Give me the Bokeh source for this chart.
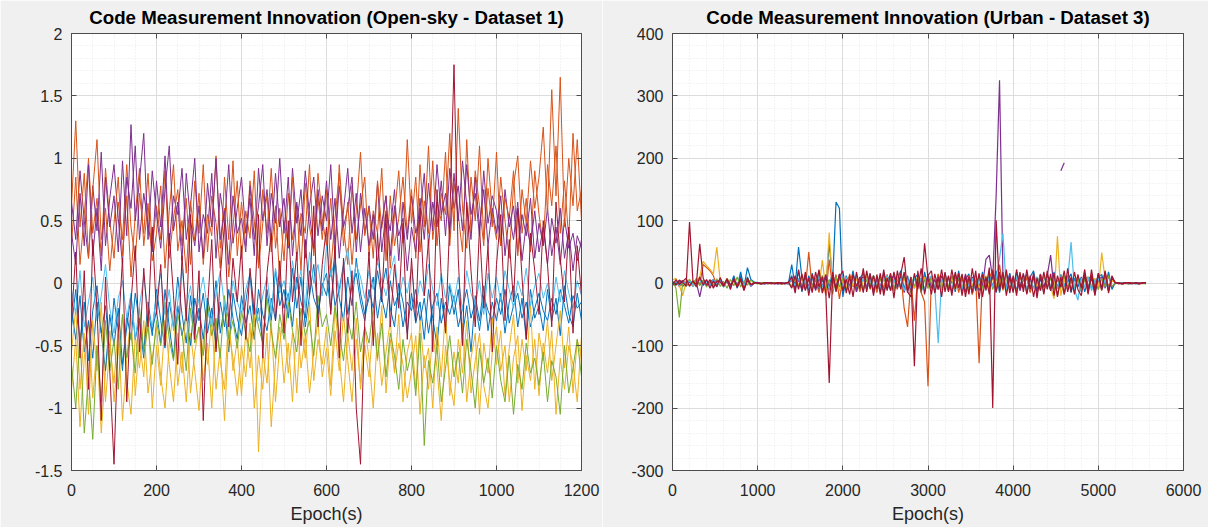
import numpy as np
from bokeh.plotting import figure
from bokeh.layouts import row
from bokeh.models import LinearAxis, SingleIntervalTicker, CustomJSTickFormatter, Range1d
from bokeh.embed import file_html
from bokeh.resources import INLINE

FONT = "Liberation Sans"
BLUE, ORANGE, YELLOW, PURPLE, GREEN, LIGHTBLUE, RED = (
    "#0072BD", "#D95319", "#EDB120", "#7E2F8E", "#77AC30", "#4DBEEE", "#A2142F")

title_open = "Code Measurement Innovation (Open-sky - Dataset 1)"
title_urban = "Code Measurement Innovation (Urban - Dataset 3)"
x_label = "Epoch(s)"

# ---------------- Open-sky (Dataset 1): epochs every 10 s ----------------
epoch_open = list(range(0, 1201, 10))

open_blue = [
    -0.20, -0.45, -0.10, -0.55, -0.30, -0.60, -0.15, -0.40, -0.70, -0.25,
    -0.50, -0.20, -0.65, -0.35, -0.10, -0.45, -0.28, -0.55, -0.15, -0.38,
    -0.22, -0.48, -0.05, -0.35, -0.60, -0.18, -0.42, -0.25, -0.50, -0.12,
    -0.30, -0.08, -0.40, -0.20, -0.52, -0.15, -0.35, -0.05, -0.28, -0.45,
    -0.10, -0.32, -0.18, -0.45, -0.05, -0.25, -0.38, -0.12, -0.30, 0.02,
    -0.20, -0.08, -0.35, 0.05, -0.15, -0.28, 0.10, -0.12, -0.22, 0.00,
    -0.10, 0.12, -0.18, -0.05, 0.15, -0.25, -0.02, 0.08, -0.15, -0.30,
    -0.05, -0.20, 0.10, -0.12, -0.28, 0.02, -0.18, -0.08, -0.35, -0.15,
    -0.22, -0.05, -0.30, -0.12, -0.40, -0.18, -0.08, -0.32, -0.15, -0.25,
    -0.10, -0.35, -0.20, -0.05, -0.28, -0.15, -0.38, -0.10, -0.22, -0.30,
    -0.12, -0.25, -0.05, -0.32, -0.18, -0.08, -0.28, -0.15, -0.35, -0.20,
    -0.08, -0.22, -0.30, -0.12, -0.25, -0.05, -0.18, -0.32, -0.10, -0.20, -0.15,
]
open_orange = [
    0.62, 1.30, 0.45, 0.88, 0.20, 0.75, 1.15, 0.35, 0.60, 0.10,
    0.48, 0.85, 0.22, 0.70, 0.05, 0.55, 0.92, 0.30, 0.64, 0.18,
    0.40, 0.78, 0.12, 0.58, 0.95, 0.26, 0.50, 0.08, 0.66, 0.34,
    0.72, 0.15, 0.55, 0.38, 1.02, 0.28, 0.60, 0.05, 0.45, 0.82,
    0.20, 0.58, 0.36, 0.90, 0.12, 0.48, 0.70, 0.25, 0.62, 0.02,
    0.50, 0.30, 0.85, 0.18, 0.56, 0.40, 0.95, 0.22, 0.68, 0.35,
    0.75, 0.10, 0.52, 0.88, 0.30, 0.65, 0.15, 0.58, 1.05, 0.38,
    0.60, 0.20, 0.82, 0.44, 0.70, 0.12, 0.55, 0.90, 0.32, 1.15,
    0.48, 0.85, 0.25, 0.66, 0.40, 0.98, 0.30, 0.72, 0.55, 1.20,
    0.42, 1.40, 0.60, 0.28, 0.85, 0.50, 1.10, 0.35, 0.76, 0.45,
    1.05, 0.30, 0.68, 0.52, 0.90, 0.22, 0.75, 0.48, 0.98, 0.60,
    0.85, 1.25, 0.55, 1.55, 0.70, 1.65, 0.45, 1.00, 0.62, 1.15, 0.50,
]
open_yellow = [
    -0.55, -0.20, -0.85, -0.40, -1.05, -0.30, -0.70, -0.15, -0.95, -0.50,
    -0.80, -0.35, -1.10, -0.60, -0.25, -0.90, -0.45, -0.75, -0.20, -1.00,
    -0.50, -0.82, -0.30, -0.65, -0.95, -0.40, -0.72, -0.18, -0.88, -0.55,
    -0.35, -0.78, -0.48, -1.00, -0.30, -0.62, -0.85, -0.25, -0.70, -0.45,
    -0.90, -0.38, -0.68, -0.22, -1.35, -0.55, -0.80, -0.30, -0.95, -0.48,
    -0.25, -0.72, -0.40, -0.88, -0.30, -0.60, -0.15, -0.78, -0.45, -0.65,
    -0.35, -0.82, -0.20, -0.58, -0.95, -0.40, -0.70, -0.28, -0.85, -0.50,
    -0.75, -0.30, -0.62, -0.18, -0.88, -0.45, -0.70, -0.25, -0.95, -0.55,
    -0.40, -0.85, -0.30, -0.68, -0.52, -1.00, -0.35, -0.75, -0.20, -0.90,
    -0.55, -0.80, -0.32, -0.95, -0.60, -0.40, -1.05, -0.48, -0.72, -0.28,
    -0.65, -0.38, -0.90, -0.52, -0.25, -0.80, -0.45, -0.70, -0.18, -0.85,
    -0.40, -0.62, -0.30, -0.78, -0.50, -0.22, -0.68, -0.35, -0.88, -0.45, -0.60,
]
open_purple = [
    0.40, 0.15, 0.72, 0.30, 0.95, 0.22, 0.60, 0.10, 0.85, 0.45,
    0.70, 0.25, 0.98, 0.38, 1.27, 0.50, 0.82, 1.20, 0.35, 0.90,
    0.55, 0.28, 0.75, 1.10, 0.42, 0.65, 0.18, 0.88, 0.50, 0.30,
    0.62, 0.20, 0.80, 0.45, 1.00, 0.35, 0.58, 0.15, 0.70, 0.40,
    0.52, 0.25, 0.78, 0.35, 0.62, 0.95, 0.30, 0.72, 0.48, 1.00,
    0.40, 0.85, 0.22, 0.65, 0.38, 0.90, 0.55, 0.28, 0.75, 0.42,
    0.82, 0.35, 0.68, 0.20, 0.58, 0.92, 0.40, 0.72, 0.25, 0.60,
    0.30, 0.55, 0.15, 0.48, 0.70, 0.22, 0.62, 0.38, 0.52, 0.10,
    0.45, 0.25, 0.68, 0.35, 0.80, 0.42, 0.95, 0.55, 0.72, 0.40,
    0.88, 0.50, 0.98, 0.62, 0.35, 0.85, 0.45, 0.75, 0.30, 0.60,
    0.40, 0.70, 0.22, 0.55, 0.35, 0.65, 0.18, 0.48, 0.30, 0.58,
    0.25, 0.45, 0.15, 0.52, 0.32, 0.60, 0.20, 0.42, 0.10, 0.38, 0.28,
]
open_green = [
    -0.65, -1.00, -0.40, -1.20, -0.75, -1.25, -0.50, -0.95, -0.30, -0.70,
    -0.45, -0.85, -0.25, -0.60, -0.40, -0.72, -0.20, -0.55, -0.35, -0.65,
    -0.30, -0.50, -0.15, -0.45, -0.62, -0.25, -0.40, -0.70, -0.20, -0.48,
    -0.35, -0.58, -0.15, -0.42, -0.28, -0.60, -0.10, -0.45, -0.30, -0.52,
    -0.22, -0.40, -0.55, -0.18, -0.35, -0.48, -0.12, -0.38, -0.60, -0.25,
    -0.45, -0.15, -0.38, -0.55, -0.20, -0.42, -0.30, -0.58, -0.10, -0.35,
    -0.25, -0.50, -0.18, -0.40, -0.62, -0.28, -0.45, -0.15, -0.55, -0.35,
    -0.48, -0.20, -0.60, -0.32, -0.75, -0.40, -0.58, -0.85, -0.45, -0.70,
    -0.55, -0.90, -0.40, -1.30, -0.62, -0.80, -0.50, -0.95, -0.68, -0.42,
    -0.75, -0.55, -0.88, -0.45, -0.70, -1.00, -0.52, -0.80, -0.60, -0.92,
    -0.50, -0.78, -0.95, -0.58, -1.05, -0.65, -0.85, -0.48, -0.72, -0.60,
    -0.82, -0.55, -0.95, -0.62, -0.75, -1.05, -0.50, -0.88, -0.68, -0.45, -0.75,
]
open_lightblue = [
    -0.05, -0.25, 0.10, -0.35, -0.15, 0.05, -0.30, -0.10, 0.15, -0.20,
    -0.40, -0.12, 0.02, -0.28, -0.08, -0.45, -0.18, 0.05, -0.22, -0.35,
    -0.10, 0.08, -0.25, -0.05, -0.38, -0.15, 0.12, -0.20, -0.02, -0.30,
    -0.12, 0.05, -0.22, -0.35, -0.08, 0.10, -0.18, -0.28, 0.02, -0.15,
    -0.25, -0.05, 0.08, -0.18, -0.30, -0.10, 0.05, -0.22, 0.12, -0.08,
    0.02, -0.15, 0.18, -0.05, 0.10, -0.20, 0.25, 0.00, 0.15, -0.10,
    0.30, 0.05, 0.20, -0.08, 0.12, 0.28, -0.02, 0.15, 0.05, -0.12,
    0.10, -0.05, 0.18, 0.02, -0.10, 0.08, 0.22, -0.15, 0.05, -0.08,
    0.12, -0.20, 0.02, -0.10, 0.15, -0.05, -0.18, 0.08, -0.12, 0.00,
    -0.15, 0.05, -0.22, 0.10, -0.08, -0.18, 0.02, -0.25, 0.08, -0.12,
    0.05, -0.15, 0.10, -0.05, -0.20, 0.02, -0.10, 0.12, -0.18, -0.02,
    0.08, -0.12, 0.00, -0.22, 0.05, -0.15, 0.10, -0.08, -0.20, 0.02, -0.10,
]
open_red = [
    -0.30, 0.25, -0.60, 0.10, -0.85, 0.35, -0.20, -1.10, 0.05, -0.70,
    -1.45, -0.40, 0.20, -0.95, -0.15, 0.30, -0.55, 0.12, -0.35, 0.45,
    -0.25, 0.15, -0.50, 0.40, -0.10, -0.65, 0.22, -0.30, 0.55, -0.45,
    0.10, -1.10, -0.20, 0.35, -0.55, 0.05, 0.48, -0.35, 0.20, -0.15,
    0.30, -0.45, 0.12, -0.25, 0.55, -0.60, 0.08, 0.40, -0.30, 0.18,
    -0.40, 0.50, -0.15, 0.25, -0.50, 0.35, -0.10, 0.62, -0.35, 0.15,
    0.45, -0.25, 0.30, -0.60, 0.20, -0.40, 0.10, -1.00, -1.45, -0.30,
    0.25, -0.50, 0.40, -0.15, 0.55, -0.35, 0.15, -0.20, 0.48, -0.45,
    0.20, -0.30, 0.60, -0.10, 0.35, -0.55, 0.75, 0.05, -0.40, 0.50,
    1.75, 0.20, -0.50, 0.65, 0.10, -0.35, 0.45, -0.20, 0.30, -0.55,
    0.15, 0.55, -0.30, 0.35, -0.15, 0.60, 0.05, -0.45, 0.40, 0.10,
    -0.25, 0.50, 0.15, -0.35, 0.65, 0.20, -0.15, 0.45, -0.40, 0.30, -0.10,
]
open_blue2 = [
    -0.35, -0.05, -0.48, -0.15, -0.62, -0.22, -0.02, -0.40, -0.18, -0.55,
    -0.12, -0.38, -0.70, -0.25, -0.45, -0.08, -0.32, -0.60, -0.20, -0.42,
    -0.05, -0.30, -0.52, -0.15, -0.35, 0.05, -0.25, -0.48, -0.10, -0.38,
    -0.20, -0.45, -0.12, -0.30, 0.02, -0.40, -0.18, -0.55, -0.08, -0.28,
    -0.42, -0.15, 0.08, -0.35, -0.20, -0.48, -0.05, -0.30, 0.10, -0.18,
    -0.05, -0.28, 0.12, -0.20, 0.05, -0.35, -0.10, 0.15, -0.25, -0.02,
    0.08, -0.22, 0.18, -0.12, -0.30, 0.05, -0.18, 0.20, -0.08, -0.25,
    -0.12, 0.05, -0.28, -0.05, 0.12, -0.20, -0.35, 0.00, -0.15, -0.40,
    -0.08, -0.32, -0.15, -0.45, -0.05, -0.28, -0.50, -0.12, -0.35, -0.02,
    -0.25, -0.05, -0.42, -0.18, -0.55, -0.10, -0.30, -0.02, -0.38, -0.15,
    -0.30, -0.08, -0.40, -0.15, -0.02, -0.35, -0.12, -0.45, -0.05, -0.28,
    -0.18, -0.38, -0.05, -0.30, -0.12, -0.42, -0.02, -0.25, -0.35, -0.08, -0.30,
]
open_orange2 = [
    0.30, 0.85, 0.15, 0.55, 1.00, 0.40, 0.68, 0.22, 0.92, 0.50,
    0.20, 0.65, 0.35, 0.95, 0.45, 0.18, 0.72, 0.40, 0.88, 0.28,
    0.62, 0.35, 0.90, 0.20, 0.52, 0.75, 0.30, 0.68, 0.15, 0.82,
    0.40, 0.95, 0.25, 0.70, 0.48, 0.12, 0.85, 0.35, 0.98, 0.22,
    0.65, 0.30, 0.82, 0.50, 0.15, 0.75, 0.40, 0.92, 0.28, 0.60,
    0.18, 0.72, 0.35, 0.62, 0.10, 0.80, 0.45, 0.25, 0.88, 0.52,
    0.30, 0.68, 0.20, 0.95, 0.45, 0.15, 0.78, 0.35, 0.62, 0.85,
    0.22, 0.58, 0.40, 0.92, 0.18, 0.70, 0.30, 0.52, 0.85, 0.40,
    0.75, 0.20, 0.95, 0.45, 1.10, 0.35, 0.65, 0.50, 1.05, 0.30,
    0.80, 0.55, 0.25, 1.15, 0.40, 0.90, 0.62, 0.30, 1.00, 0.55,
    0.35, 0.85, 0.50, 0.20, 0.78, 1.02, 0.40, 0.68, 0.25, 0.90,
    0.55, 0.30, 0.95, 0.62, 1.10, 0.40, 0.82, 0.35, 1.20, 0.58, 0.75,
]
open_yellow2 = [
    -0.85, -0.45, -1.15, -0.60, -0.30, -0.92, -0.50, -1.20, -0.70, -0.38,
    -0.95, -0.55, -0.25, -0.78, -1.05, -0.42, -0.68, -0.30, -0.88, -0.60,
    -0.35, -0.75, -1.00, -0.48, -0.22, -0.82, -0.55, -0.95, -0.40, -0.70,
    -1.02, -0.45, -0.65, -0.28, -0.85, -0.52, -1.10, -0.38, -0.60, -0.90,
    -0.50, -0.75, -0.32, -1.00, -0.58, -0.85, -0.40, -1.15, -0.62, -0.35,
    -0.80, -0.48, -0.95, -0.28, -0.68, -0.42, -0.88, -0.55, -0.30, -0.75,
    -0.52, -0.90, -0.38, -0.70, -0.25, -0.62, -0.95, -0.45, -0.80, -0.35,
    -0.60, -1.00, -0.40, -0.82, -0.55, -0.30, -0.72, -0.48, -0.65, -0.92,
    -0.70, -0.42, -1.05, -0.58, -0.85, -0.38, -0.68, -1.10, -0.50, -0.78,
    -0.98, -0.45, -0.72, -0.30, -0.88, -0.62, -0.40, -0.82, -1.00, -0.55,
    -0.35, -0.70, -0.50, -0.95, -0.60, -0.42, -1.02, -0.58, -0.78, -0.45,
    -0.90, -0.48, -0.72, -0.38, -1.05, -0.60, -0.85, -0.50, -0.65, -0.95, -0.42,
]
open_purple2 = [
    0.65, 0.35, 0.90, 0.50, 0.20, 0.78, 0.42, 1.05, 0.30, 0.68,
    0.95, 0.52, 0.15, 0.85, 0.60, 1.10, 0.35, 0.72, 0.48, 0.25,
    0.82, 0.45, 1.02, 0.30, 0.70, 0.55, 0.92, 0.35, 0.62, 1.00,
    0.25, 0.55, 0.40, 0.88, 0.20, 0.72, 0.48, 0.95, 0.32, 0.60,
    0.85, 0.40, 0.68, 0.22, 0.92, 0.50, 0.75, 0.35, 0.88, 0.45,
    0.68, 0.28, 0.92, 0.48, 0.75, 0.20, 0.62, 0.85, 0.38, 0.70,
    0.50, 0.95, 0.30, 0.78, 0.45, 0.60, 0.85, 0.25, 0.72, 0.40,
    0.62, 0.35, 0.80, 0.25, 0.58, 0.42, 0.75, 0.18, 0.65, 0.35,
    0.70, 0.40, 0.55, 0.88, 0.30, 0.65, 0.45, 0.82, 0.38, 0.92,
    0.60, 0.78, 0.42, 0.95, 0.55, 0.72, 0.38, 0.90, 0.48, 0.70,
    0.58, 0.30, 0.75, 0.45, 0.62, 0.25, 0.55, 0.38, 0.68, 0.20,
    0.48, 0.30, 0.60, 0.22, 0.45, 0.15, 0.52, 0.28, 0.40, 0.18, 0.35,
]
# drawing order (last drawn on top)
open_series = [
    (open_blue2, BLUE), (open_orange2, ORANGE), (open_yellow2, YELLOW), (open_purple2, PURPLE),
    (open_blue, BLUE), (open_orange, ORANGE), (open_yellow, YELLOW), (open_purple, PURPLE),
    (open_green, GREEN), (open_lightblue, LIGHTBLUE), (open_red, RED),
]

# ---------------- Urban (Dataset 3): epochs every 40 s ----------------
epoch_urban = list(range(0, 5561, 40))
NaN = float("nan")

urban_blue = [
    3, -2, 4, -5, 1, 2, -3, 5, -1, 3,
    -4, 2, 6, -3, 5, -6, 8, -4, 10, -8,
    12, -5, 25, 6, 2, 1, 0, -1, 1, 0,
    1, -1, 0, 1, -1, 30, -6, 58, 8, -10,
    12, -5, 10, -12, 6, -8, 65, 2, 130, 120,
    -22, 10, -6, 14, -10, 8, -12, 15, -5, 12,
    -8, 10, -14, 6, 12, -10, 8, -6, 14, -12,
    6, -8, 10, -15, 12, -6, 8, -10, 14, -5,
    10, -12, 6, 15, -8, 12, -14, 8, -6, 10,
    -12, 14, -8, 6, 10, -15, 12, -5, 15, -10,
    8, -12, 14, -6, 10, -14, 12, -8, 15, -10,
    6, -12, 10, -8, 14, -5, 12, -15, 8, -6,
    10, -14, 6, 12, -8, 14, -10, 6, -12, 8,
    0, 1, -1, 0, 1, 0, -1, 0, 1, 0,
]
urban_orange = [
    -2, 4, -6, 3, 1, -4, 2, 5, -3, 30,
    25, 20, 12, -5, 6, -4, 3, -7, 5, -2,
    4, -6, 8, -3, 1, 0, -1, 0, 1, 0,
    0, 1, -1, 0, 1, -6, 8, -4, 10, -8,
    50, -10, 6, -15, 12, -20, 38, -8, 14, -25,
    8, -12, 15, -6, 10, -14, 6, 12, -10, 8,
    -15, 10, -8, 14, -12, 6, -10, 15, -40, -70,
    8, -60, 12, -15, -30, -165, 10, -12, 15, -8,
    12, -10, 6, 14, -15, 8, -6, 12, -18, 10,
    -128, 14, -10, 8, 22, -12, 30, -8, 15, -10,
    6, -14, 12, -8, 10, -15, 8, -6, 14, -12,
    10, -8, 15, -20, 6, 12, -10, 8, -14, 10,
    -6, 12, -10, 14, -8, 6, -12, 10, -5, 8,
    1, 0, -1, 0, 0, 1, 0, -1, 0, 0,
]
urban_yellow = [
    5, 8, -3, -20, 2, 6, -4, 3, 10, 35,
    28, 22, 15, 58, 4, -6, 8, -3, 6, -5,
    3, -4, 5, -2, 1, 0, 0, 1, -1, 0,
    1, 0, -1, 0, 0, -4, 6, -3, 8, -6,
    5, -8, 10, -5, 37, -10, 81, -6, 8, -12,
    6, -8, 10, -4, 8, -10, 5, 12, -6, 8,
    -10, 6, 12, -8, 5, -12, 10, -6, 8, -10,
    6, -8, 12, -5, 10, -8, 6, -12, 8, -4,
    10, -6, 8, -10, 5, 12, -8, 6, -5, 10,
    -8, 6, 12, -10, 8, -6, 10, -12, 5, 8,
    -6, 10, -8, 6, 12, -10, 8, -5, 10, -12,
    8, -6, -25, 75, -20, 6, -10, 8, -6, 12,
    -8, 6, 10, -5, 8, -10, 49, 6, -8, 5,
    0, 1, 0, -1, 0, 0, 1, 0, -1, 0,
]
urban_purple = [
    -3, 2, -1, 4, -5, 3, -2, 1, -22, 5,
    -4, 3, -6, 2, 5, -3, 4, -6, 8, -4,
    6, -3, 4, -5, 0, 1, 0, -1, 0, 1,
    0, -1, 1, 0, -1, 5, -8, 6, -10, 12,
    -6, 10, -12, 8, -5, 14, -10, 6, -8, 12,
    -10, 8, -6, 12, -14, 6, 10, -8, 15, -12,
    8, -6, 14, -10, 6, 12, -8, 10, -15, 6,
    -10, 12, -6, 8, -12, 15, -8, 6, -10, 12,
    -6, 10, -14, 8, 6, -12, 15, -8, 10, -10,
    12, -6, 38, 45, 6, 140, 325, 10, -8, 14,
    -10, 8, -12, 6, 14, -8, 10, -15, 8, -6,
    12, 45, -10, NaN, 180, 193, NaN, 8, -12, 10,
    -6, 14, -10, 8, -12, 6, 10, -8, 12, -5,
    0, 0, 1, 0, -1, 0, 0, 1, 0, 0,
]
urban_green = [
    4, -8, -55, 3, -5, 6, -2, 8, -4, 5,
    -6, 4, -3, 7, -5, 3, -8, 6, -4, 10,
    -6, 4, -3, 5, 0, -1, 0, 1, 0, 0,
    1, 0, -1, 0, 1, -5, 8, -6, 10, -4,
    6, -10, 8, -5, 12, -8, 6, -18, 10, -6,
    8, -12, 5, 10, -6, 8, -10, 6, -5, 12,
    -8, 6, 10, -6, 8, -10, 5, -8, 12, -6,
    10, -5, 8, -12, 6, -8, 10, -6, 5, -10,
    8, -6, 12, -5, 10, -8, 6, -12, 8, -5,
    10, -8, 6, 12, -10, 8, -6, 10, -12, 5,
    -8, 10, -5, 8, -12, 6, -8, 10, -6, 12,
    -5, 8, -10, 6, -8, 12, -6, 5, -10, 8,
    -12, 6, 10, -8, 5, -10, 8, -6, 12, -5,
    0, 1, 0, 0, -1, 0, 1, 0, 0, -1,
]
urban_lightblue = [
    -2, 3, -4, 2, -1, 4, -3, 2, 5, -4,
    3, -5, 6, -2, 4, -6, 5, -3, 7, -5,
    4, -3, 6, -4, 1, 0, -1, 0, 1, 0,
    -1, 0, 1, 0, 0, 6, -4, 8, -6, 5,
    -8, 10, -5, 12, -6, 8, -10, 6, -4, 8,
    -6, 10, -8, 5, 12, -6, 8, -10, 6, -5,
    10, -8, 6, 12, -10, 5, -6, 8, -12, 6,
    -8, 10, -5, 8, -10, 6, 12, -8, -96, 8,
    -6, 10, -8, 5, 12, -10, 6, -5, 8, -12,
    6, 10, -8, 12, -6, 8, 40, 80, -10, 6,
    -8, 10, -5, 12, -10, 6, -8, 10, -12, 5,
    8, -6, 10, -8, 12, -5, 6, 66, -10, -27,
    8, -6, 10, -12, 5, 8, -10, 6, -8, 10,
    0, 0, 1, 0, -1, 0, 0, 1, 0, 0,
]
urban_red = [
    2, -3, 5, 1, -4, 98, 3, -2, 63, 8,
    -3, 6, -8, 4, 2, -5, 7, -3, 5, -6,
    8, -10, 4, -2, 1, 0, -1, 1, 0, 1,
    -1, 0, 1, -1, 2, -8, 12, -10, 15, -12,
    8, -15, 18, -6, 10, -14, -160, 12, -8, 15,
    -12, 6, -18, 14, -5, 10, -15, 20, -8, 12,
    -10, 16, -20, 8, -12, 18, -6, 14, 42, -15,
    10, -133, 20, -12, 64, 8, -18, 15, -10, 22,
    -14, 12, -20, 18, -8, 15, -22, 10, -15, 20,
    -25, 14, -10, 25, -200, 101, -12, 18, -20, 10,
    -15, 22, -8, 16, -18, 12, -22, 8, -12, 18,
    -10, 15, -20, 12, -6, 20, -14, 10, -18, 14,
    -8, 22, -15, 12, -20, 16, -10, 18, -12, 8,
    1, -1, 0, 1, 0, -1, 1, 0, 0, 1,
]
urban_blue2 = [
    1, -3, 2, 4, -2, 3, -5, 2, 6, -3,
    5, -4, 3, -6, 7, -2, 4, -5, 12, -6,
    18, -8, 10, -4, 1, 0, 1, 0, -1, 0,
    0, 1, 0, -1, 0, 12, -10, 20, -14, 8,
    -12, 16, -8, 20, -15, 10, -6, 18, -12, 14,
    -18, 12, -6, 20, -14, 8, 16, -10, 12, -16,
    10, -14, 18, -8, 15, -12, 6, 20, -10, 12,
    -16, 8, 14, -12, 18, -6, 10, -15, 12, -8,
    16, -10, 8, -14, 20, -12, 6, 15, -18, 10,
    -8, 18, -12, 14, -6, 20, -15, 10, -8, 16,
    -12, 18, -6, 14, -16, 10, 20, -12, 8, -15,
    14, -10, 18, -8, 12, -18, 6, 15, -12, 10,
    -14, 16, -8, 12, -18, 10, 14, -6, 18, -10,
    1, 0, -1, 0, 0, 1, 0, -1, 0, 0,
]
urban_red2 = [
    -4, 6, -2, 3, 8, -5, 4, -6, 10, -3,
    6, -8, 4, -5, 9, -4, 6, -10, 8, -6,
    5, -12, 8, -3, 0, 1, -1, 0, 1, -1,
    0, 1, -1, 0, 1, 10, -16, 22, -12, 18,
    -20, 14, -10, 22, -16, 12, -24, 18, -14, 10,
    20, -16, 12, -22, 18, -10, 24, -14, 16, -20,
    14, -18, 22, -12, 16, -24, 20, -10, 18, -14,
    -22, 16, -10, 24, -18, 12, 20, -16, 10, -22,
    18, -14, 22, -10, 16, -20, 12, -18, 24, -12,
    16, -22, 10, -18, 20, -14, 18, -10, 22, -16,
    12, -20, 18, -14, 22, -10, 16, -24, 14, -18,
    20, -12, 16, -22, 10, -18, 24, -14, 18, -10,
    -20, 14, -18, 22, -12, 16, -10, 20, -16, 12,
    0, 1, -1, 0, 1, 0, 0, -1, 1, 0,
]
urban_series = [
    (urban_blue2, BLUE), (urban_blue, BLUE), (urban_orange, ORANGE), (urban_yellow, YELLOW),
    (urban_purple, PURPLE), (urban_green, GREEN), (urban_lightblue, LIGHTBLUE),
    (urban_red2, RED), (urban_red, RED),
]

AX = "#4d4d4d"
LABEL = "#262626"
PLAIN = CustomJSTickFormatter(code="return String(Math.round(tick*10)/10);")
BLANK = CustomJSTickFormatter(code="return '';")


def make_axis_style(ax, labels=True):
    ax.axis_line_color = AX
    ax.major_tick_line_color = AX
    ax.major_tick_in = 5
    ax.major_tick_out = 0
    ax.minor_tick_line_color = None
    ax.major_label_text_font = FONT
    ax.major_label_text_color = LABEL
    ax.major_label_text_font_size = "16px"
    if labels:
        ax.formatter = PLAIN
    else:
        ax.formatter = BLANK
        ax.major_label_standoff = 0


def make_panel(title, xr, yr, xint, xminor, yint, yminor, w, bl, br):
    p = figure(width=w, height=527, x_range=Range1d(*xr), y_range=Range1d(*yr),
               output_backend="svg", toolbar_location=None, title=title,
               x_axis_label=x_label,
               min_border_left=bl, min_border_right=br, min_border_top=33, min_border_bottom=57)
    p.background_fill_color = "white"
    p.border_fill_color = "#f0f0f0"
    p.outline_line_color = AX
    p.title.text_font = FONT
    p.title.text_font_size = "18.7px"
    p.title.text_font_style = "bold"
    p.title.text_color = "black"
    p.title.align = "center"
    p.title.standoff = 3

    xt = SingleIntervalTicker(interval=xint, num_minor_ticks=xminor)
    yt = SingleIntervalTicker(interval=yint, num_minor_ticks=yminor)
    p.xaxis.ticker = xt
    p.yaxis.ticker = yt
    p.xgrid.ticker = xt
    p.ygrid.ticker = yt
    for g in (p.xgrid, p.ygrid):
        g.grid_line_color = "#dcdcdc"
        g.grid_line_width = 1
        g.minor_grid_line_color = "#e8e8e8"
        g.minor_grid_line_dash = "1 2"
    make_axis_style(p.xaxis[0])
    make_axis_style(p.yaxis[0])
    p.xaxis[0].major_label_standoff = 9
    p.yaxis[0].major_label_standoff = 5
    p.xaxis[0].axis_label_text_font = FONT
    p.xaxis[0].axis_label_text_font_size = "18px"
    p.xaxis[0].axis_label_text_font_style = "normal"
    p.xaxis[0].axis_label_text_color = LABEL
    p.xaxis[0].axis_label_standoff = 5

    top = LinearAxis(ticker=SingleIntervalTicker(interval=xint, num_minor_ticks=xminor))
    right = LinearAxis(ticker=SingleIntervalTicker(interval=yint, num_minor_ticks=yminor))
    make_axis_style(top, labels=False)
    make_axis_style(right, labels=False)
    p.add_layout(top, "above")
    p.add_layout(right, "right")
    return p


p1 = make_panel(title_open, (0, 1200), (-1.5, 2), 200, 4, 0.5, 5, 602, 71, 21)
for vals, c in open_series:
    p1.line(epoch_open, vals, line_color=c, line_width=1)

p2 = make_panel(title_urban, (0, 6000), (-300, 400), 1000, 5, 100, 5, 606, 70, 25)
for vals, c in urban_series:
    p2.line(epoch_urban, np.array(vals, dtype=float), line_color=c, line_width=1.2)

layout = row(p1, p2)
open("out.html", "w").write(file_html(layout, INLINE))
